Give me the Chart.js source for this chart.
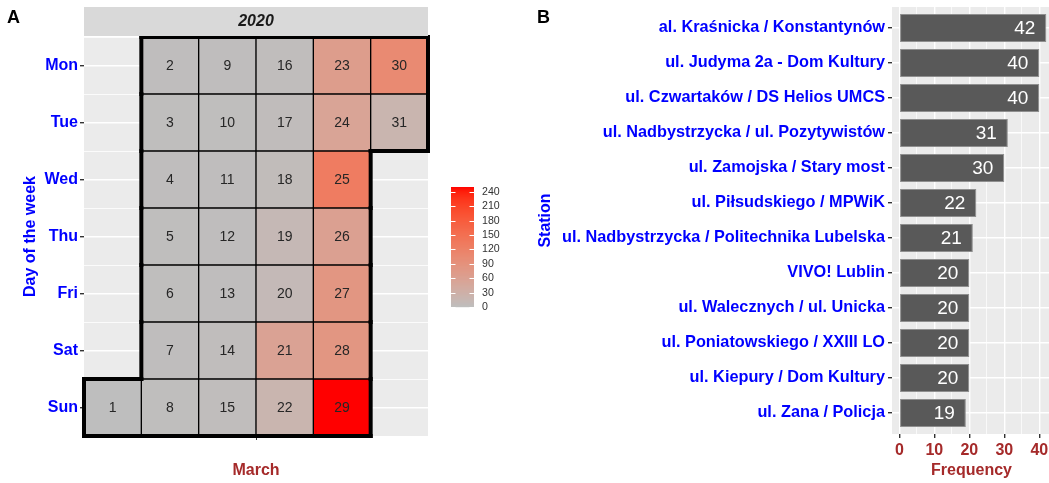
<!DOCTYPE html>
<html>
<head>
<meta charset="utf-8">
<script src="https://cdn.jsdelivr.net/npm/chart.js@4.4.0/dist/chart.umd.min.js"></script>
<style>
  body { margin: 0; background: #fff; }
  #wrap { position: relative; width: 1049px; height: 483px; }
  #calWrap { position: absolute; left: 0; top: 0; width: 530px; height: 483px; }
  #barWrap { position: absolute; left: 530px; top: 0; width: 519px; height: 483px; }
</style>
</head>
<body>
<div id="wrap">
  <div id="calWrap"><canvas id="calChart" width="530" height="483"></canvas></div>
  <div id="barWrap"><canvas id="barChart" width="519" height="483"></canvas></div>
</div>
<script>
const FONT = "'Liberation Sans', Arial, sans-serif";

// Panel A - daily counts, March 2020
const year = 2020;
const monthIndex = 2; // March
const monthName = 'March';
const dayNames = ['Mon', 'Tue', 'Wed', 'Thu', 'Fri', 'Sat', 'Sun'];
const dayCounts = [0, 2, 1, 2, 1, 1, 2, 1, 2, 1, 2, 2, 2, 3, 3, 3, 4, 5, 12, 10,
                   58, 20, 68, 55, 130, 62, 82, 82, 250, 105, 20];
const legendTicks = [0, 30, 60, 90, 120, 150, 180, 210, 240];

// Panel B - stations
const stations = [
  'al. Kraśnicka / Konstantynów',
  'ul. Judyma 2a - Dom Kultury',
  'ul. Czwartaków / DS Helios UMCS',
  'ul. Nadbystrzycka / ul. Pozytywistów',
  'ul. Zamojska / Stary most',
  'ul. Piłsudskiego / MPWiK',
  'ul. Nadbystrzycka / Politechnika Lubelska',
  'VIVO! Lublin',
  'ul. Walecznych / ul. Unicka',
  'ul. Poniatowskiego / XXIII LO',
  'ul. Kiepury / Dom Kultury',
  'ul. Zana / Policja'
];
const frequencies = [42, 40, 40, 31, 30, 22, 21, 20, 20, 20, 20, 19];
const freqTicks = [0, 10, 20, 30, 40];

// grey -> red gradient in Lab space (like ggplot)
function toLin(c) { c /= 255; return c <= 0.04045 ? c / 12.92 : Math.pow((c + 0.055) / 1.055, 2.4); }
function fromLin(c) {
  const v = c <= 0.0031308 ? 12.92 * c : 1.055 * Math.pow(c, 1 / 2.4) - 0.055;
  return Math.round(Math.max(0, Math.min(1, v)) * 255);
}
function rgbToLab(rgb) {
  const r = toLin(rgb[0]), g = toLin(rgb[1]), b = toLin(rgb[2]);
  const X = (0.4124 * r + 0.3576 * g + 0.1805 * b) / 0.95047;
  const Y = 0.2126 * r + 0.7152 * g + 0.0722 * b;
  const Z = (0.0193 * r + 0.1192 * g + 0.9505 * b) / 1.08883;
  const f = t => t > 0.008856 ? Math.cbrt(t) : 7.787 * t + 16 / 116;
  const fx = f(X), fy = f(Y), fz = f(Z);
  return [116 * fy - 16, 500 * (fx - fy), 200 * (fy - fz)];
}
function labToRgb(lab) {
  const fy = (lab[0] + 16) / 116, fx = fy + lab[1] / 500, fz = fy - lab[2] / 200;
  const fi = t => t > 0.206893 ? t * t * t : (t - 16 / 116) / 7.787;
  const X = fi(fx) * 0.95047, Y = fi(fy), Z = fi(fz) * 1.08883;
  const r = 3.2406 * X - 1.5372 * Y - 0.4986 * Z;
  const g = -0.9689 * X + 1.8758 * Y + 0.0415 * Z;
  const b = 0.0557 * X - 0.2040 * Y + 1.0570 * Z;
  return [fromLin(r), fromLin(g), fromLin(b)];
}
const lowLab = rgbToLab([190, 190, 190]);
const highLab = rgbToLab([255, 0, 0]);
const cMin = Math.min(...dayCounts), cMax = Math.max(...dayCounts);
function heatColor(v) {
  const t = (v - cMin) / (cMax - cMin);
  const lab = lowLab.map((l, i) => l + (highLab[i] - l) * t);
  const c = labToRgb(lab);
  return `rgb(${c[0]},${c[1]},${c[2]})`;
}

// calendar cells: column = week of month, row = day of week
const firstDow = (new Date(year, monthIndex, 1).getDay() + 6) % 7;
const cells = dayCounts.map((count, i) => {
  const day = i + 1;
  const dow = (new Date(year, monthIndex, day).getDay() + 6) % 7;
  const col = Math.floor((day - 1 + firstDow) / 7) + 1;
  return { x: col, y: [dow + 0.5, dow + 1.5], row: dow + 1, day: day, count: count };
});
const numWeeks = Math.max(...cells.map(c => c.x));

// keep chart.js from shrinking the plot to make room for edge labels
function noEdgePad(axis) {
  axis.paddingLeft = 0; axis.paddingRight = 0;
  axis.paddingTop = 0; axis.paddingBottom = 0;
}

const panelBg = {
  id: 'panelBg',
  beforeDraw(chart) {
    const a = chart.chartArea, ctx = chart.ctx;
    ctx.save();
    ctx.fillStyle = '#EBEBEB';
    ctx.fillRect(a.left, a.top, a.right - a.left, a.bottom - a.top);
    ctx.restore();
  }
};

const calendarExtras = {
  id: 'calendarExtras',
  afterDatasetsDraw(chart) {
    const ctx = chart.ctx, xs = chart.scales.x, ys = chart.scales.y;
    ctx.save();
    // day numbers
    ctx.fillStyle = '#262626';
    ctx.font = '14px ' + FONT;
    ctx.textAlign = 'center';
    ctx.textBaseline = 'middle';
    cells.forEach(c => ctx.fillText(String(c.day), xs.getPixelForValue(c.x), ys.getPixelForValue(c.row) + 1));
    // month outline
    const has = new Set(cells.map(c => c.x + ',' + c.row));
    ctx.strokeStyle = '#000';
    ctx.lineWidth = 4;
    ctx.lineCap = 'square';
    cells.forEach(c => {
      const l = xs.getPixelForValue(c.x - 0.5), r = xs.getPixelForValue(c.x + 0.5);
      const t = ys.getPixelForValue(c.row - 0.5), b = ys.getPixelForValue(c.row + 0.5);
      const seg = (x1, y1, x2, y2) => { ctx.beginPath(); ctx.moveTo(x1, y1); ctx.lineTo(x2, y2); ctx.stroke(); };
      if (!has.has(c.x + ',' + (c.row - 1))) seg(l, t, r, t);
      if (!has.has(c.x + ',' + (c.row + 1))) seg(l, b, r, b);
      if (!has.has((c.x - 1) + ',' + c.row)) seg(l, t, l, b);
      if (!has.has((c.x + 1) + ',' + c.row)) seg(r, t, r, b);
    });
    ctx.restore();
  },
  afterDraw(chart) {
    const ctx = chart.ctx, a = chart.chartArea;
    ctx.save();
    // facet strip
    ctx.fillStyle = '#D9D9D9';
    ctx.fillRect(a.left, 7, a.right - a.left, a.top - 8);
    ctx.fillStyle = '#1A1A1A';
    ctx.font = 'italic bold 16px ' + FONT;
    ctx.textAlign = 'center';
    ctx.textBaseline = 'middle';
    ctx.fillText(String(year), (a.left + a.right) / 2, 22);
    // panel tag
    ctx.fillStyle = '#000';
    ctx.font = 'bold 18px ' + FONT;
    ctx.textAlign = 'left';
    ctx.fillText('A', 7, 18);
    // axis titles
    ctx.fillStyle = '#0000FF';
    ctx.font = 'bold 16px ' + FONT;
    ctx.save();
    ctx.translate(31, (a.top + a.bottom) / 2);
    ctx.rotate(-Math.PI / 2);
    ctx.textAlign = 'center';
    ctx.fillText('Day of the week', 0, 0);
    ctx.restore();
    ctx.fillStyle = '#A52A2A';
    ctx.textAlign = 'center';
    ctx.fillText(monthName, (a.left + a.right) / 2, 471);
    // colour bar legend
    const bx = 451, bw = 23, by0 = 307, bh = 120;
    const yOf = v => by0 - (v - cMin) / (cMax - cMin) * bh;
    for (let i = 0; i < bh; i++) {
      ctx.fillStyle = heatColor(cMin + (i + 0.5) / bh * (cMax - cMin));
      ctx.fillRect(bx, by0 - i - 1, bw, 1.2);
    }
    ctx.strokeStyle = '#fff';
    ctx.lineWidth = 1;
    ctx.fillStyle = '#333';
    ctx.font = '10.6px ' + FONT;
    ctx.textAlign = 'left';
    legendTicks.forEach(v => {
      const y = Math.round(yOf(v)) + 0.5;
      ctx.beginPath();
      ctx.moveTo(bx, y); ctx.lineTo(bx + 4.5, y);
      ctx.moveTo(bx + bw - 4.5, y); ctx.lineTo(bx + bw, y);
      ctx.stroke();
      ctx.fillText(String(v), 482, yOf(v));
    });
    ctx.restore();
  }
};

new Chart(document.getElementById('calChart'), {
  type: 'bar',
  data: {
    datasets: [{
      data: cells,
      backgroundColor: cells.map(c => heatColor(c.count)),
      borderColor: '#000',
      borderWidth: 1,
      borderSkipped: false,
      barPercentage: 1,
      categoryPercentage: 1,
      grouped: false
    }]
  },
  options: {
    responsive: false,
    animation: false,
    layout: { padding: { left: 0, top: 37, right: 102, bottom: 0 } },
    plugins: { legend: { display: false }, tooltip: { enabled: false } },
    scales: {
      x: {
        type: 'linear',
        offset: false,
        min: 0.5,
        max: numWeeks + 0.5,
        afterBuildTicks: axis => { axis.ticks = [{ value: (numWeeks + 1) / 2 }]; },
        ticks: { callback: () => '', autoSkip: false },
        grid: { offset: false, drawOnChartArea: false, tickColor: '#333', tickLength: 4, tickWidth: 1 },
        border: { display: false },
        afterFit: axis => { axis.height = 47; noEdgePad(axis); }
      },
      y: {
        type: 'linear',
        reverse: true,
        min: 0.5,
        max: 7.5,
        afterBuildTicks: axis => {
          const t = [];
          for (let v = 0.5; v <= 7.5; v += 0.5) t.push({ value: v });
          axis.ticks = t;
        },
        ticks: {
          autoSkip: false,
          padding: 2,
          color: '#0000FF',
          font: { family: FONT, size: 16, weight: 'bold' },
          callback: v => Number.isInteger(v) ? dayNames[v - 1] : ''
        },
        grid: {
          color: '#FFFFFF',
          lineWidth: c => Number.isInteger(c.tick.value) ? 1.4 : 0.8,
          tickColor: c => Number.isInteger(c.tick.value) ? '#333' : 'rgba(0,0,0,0)',
          tickLength: 4
        },
        border: { display: false },
        afterFit: axis => { axis.width = 84; noEdgePad(axis); }
      }
    }
  },
  plugins: [panelBg, calendarExtras]
});

const barExtras = {
  id: 'barExtras',
  afterDatasetsDraw(chart) {
    const ctx = chart.ctx, meta = chart.getDatasetMeta(0);
    ctx.save();
    ctx.fillStyle = '#FFFFFF';
    ctx.font = '19px ' + FONT;
    ctx.textAlign = 'right';
    ctx.textBaseline = 'middle';
    meta.data.forEach((el, i) => ctx.fillText(String(frequencies[i]), el.x - 11, el.y + 1));
    ctx.restore();
  },
  afterDraw(chart) {
    const ctx = chart.ctx, a = chart.chartArea;
    ctx.save();
    ctx.fillStyle = '#000';
    ctx.font = 'bold 18px ' + FONT;
    ctx.textBaseline = 'middle';
    ctx.fillText('B', 7, 18);
    ctx.font = 'bold 16px ' + FONT;
    ctx.textAlign = 'center';
    ctx.fillStyle = '#A52A2A';
    ctx.fillText('Frequency', (a.left + a.right) / 2 + 1, 471);
    ctx.fillStyle = '#0000FF';
    ctx.translate(16, (a.top + a.bottom) / 2);
    ctx.rotate(-Math.PI / 2);
    ctx.fillText('Station', 0, 0);
    ctx.restore();
  }
};

new Chart(document.getElementById('barChart'), {
  type: 'bar',
  data: {
    datasets: [{
      data: frequencies.map((f, i) => ({ x: f, y: i + 1 })),
      backgroundColor: '#595959',
      borderColor: '#8F8F8F',
      borderWidth: 1,
      borderSkipped: false,
      barPercentage: 0.8,
      categoryPercentage: 1
    }]
  },
  options: {
    indexAxis: 'y',
    responsive: false,
    animation: false,
    layout: { padding: { left: 0, top: 7, right: 0, bottom: 0 } },
    plugins: { legend: { display: false }, tooltip: { enabled: false } },
    scales: {
      x: {
        type: 'linear',
        offset: false,
        min: -2.1,
        max: 42.76,
        afterBuildTicks: axis => {
          const t = [];
          for (let v = 0; v <= 40; v += 5) t.push({ value: v });
          axis.ticks = t;
        },
        ticks: {
          autoSkip: false,
          maxRotation: 0,
          padding: 3,
          color: '#A52A2A',
          font: { family: FONT, size: 16, weight: 'bold' },
          callback: v => freqTicks.includes(v) ? String(v) : ''
        },
        grid: {
          offset: false,
          color: '#FFFFFF',
          lineWidth: c => freqTicks.includes(c.tick.value) ? 1.4 : 0.7,
          tickColor: c => freqTicks.includes(c.tick.value) ? '#333' : 'rgba(0,0,0,0)',
          tickLength: 4
        },
        border: { display: false },
        afterFit: axis => { axis.height = 49; noEdgePad(axis); }
      },
      y: {
        type: 'linear',
        offset: false,
        reverse: true,
        min: 0.4,
        max: stations.length + 0.6,
        afterBuildTicks: axis => { axis.ticks = stations.map((s, i) => ({ value: i + 1 })); },
        ticks: {
          autoSkip: false,
          padding: 3,
          color: '#0000FF',
          font: { family: FONT, size: 16.3, weight: 'bold' },
          callback: v => stations[v - 1]
        },
        grid: { offset: false, color: '#FFFFFF', lineWidth: 1.4, tickColor: '#333', tickLength: 4 },
        border: { display: false },
        afterFit: axis => { axis.width = 362; noEdgePad(axis); }
      }
    }
  },
  plugins: [panelBg, barExtras]
});
</script>
</body>
</html>
